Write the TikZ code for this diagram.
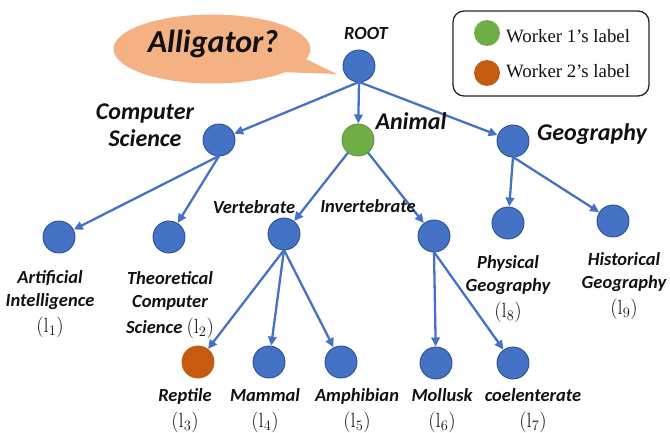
\documentclass[tikz,border=0pt]{standalone}
\usepackage{fontspec}
\newfontfamily\lblfont{Carlito}
\newfontfamily\legfont{Liberation Serif}
\usetikzlibrary{arrows.meta,shapes.callouts,shapes.geometric}
\definecolor{nodeblue}{HTML}{4472C4}
\definecolor{nodeborder}{HTML}{2F528F}
\definecolor{wgreen}{HTML}{70AD47}
\definecolor{worange}{HTML}{C55A11}
\definecolor{bubblefill}{HTML}{F4B183}
\definecolor{edgeblue}{HTML}{4472C4}
\definecolor{txt}{HTML}{111111}
\newcommand{\lidx}[1]{{\fontsize{20.5}{23}\selectfont$(\mathrm{l}_{#1})$}}
\tikzset{
  circ/.style={circle, fill=nodeblue, draw=nodeborder, line width=0.9pt, minimum size=32pt, inner sep=0pt, outer sep=0pt},
  arr/.style={draw=edgeblue, line width=2.3pt, -{Triangle[length=9pt,width=8.5pt]}, shorten >=0.5pt},
  lbl/.style={font=\lblfont\bfseries\itshape\fontsize{18.5}{23}\selectfont, align=center, inner sep=0pt, text=txt},
  biglbl/.style={font=\lblfont\bfseries\itshape\fontsize{24}{27}\selectfont, align=center, inner sep=0pt, text=txt},
  legtxt/.style={font=\legfont\fontsize{18.8}{22}\selectfont, inner sep=0pt, anchor=base west, text=txt},
}
\begin{document}
\begin{tikzpicture}[x=1pt,y=-1pt]
\useasboundingbox (0,0) rectangle (670,433);
% speech bubble
\coordinate (tip) at (337,74);
\node[ellipse callout, fill=bubblefill, draw=none, minimum width=197pt, minimum height=69pt, inner sep=0pt, outer sep=0pt, callout absolute pointer={(tip)}, callout pointer arc=25] (bubble) at (212,49) {};
\node[font=\lblfont\bfseries\itshape\fontsize{32}{36}\selectfont, anchor=base, inner sep=0pt, text=txt] (alli) at (213,53) {Alligator?};
% legend
\node[draw=black!85, line width=1.3pt, rounded corners=11pt, minimum width=196pt, minimum height=85pt, inner sep=0pt] (legend) at (551,53.5) {};
\node[circle, fill=wgreen, minimum size=26pt, inner sep=0pt] (g1) at (487,33) {};
\node[circle, fill=worange, minimum size=26pt, inner sep=0pt] (o1) at (487,73) {};
\node[legtxt] (w1) at (506,43) {Worker 1’s label};
\node[legtxt] (w2) at (506,78) {Worker 2’s label};
% tree nodes
\node[circ] (root) at (359,66) {};
\node[circ] (cs) at (219,140) {};
\node[circ, fill=wgreen, draw=wgreen!85!black] (animal) at (358,140) {};
\node[circ] (geo) at (513,141) {};
\node[circ] (ai) at (59,237) {};
\node[circ] (tcs) at (169,237) {};
\node[circ] (vert) at (284,234) {};
\node[circ] (invert) at (434,236) {};
\node[circ] (phys) at (508,223) {};
\node[circ] (hist) at (613,221) {};
\node[circ, fill=worange, draw=worange] (rep) at (198,362) {};
\node[circ] (mam) at (269,362) {};
\node[circ] (amph) at (341,362) {};
\node[circ] (moll) at (436,363) {};
\node[circ] (coel) at (513,363) {};
% edges
\draw[arr] (root.south) -- (cs);
\draw[arr] (root.south) -- (animal);
\draw[arr] (root.south) -- (geo);
\draw[arr] (cs.south) -- (ai);
\draw[arr] (cs.south) -- (tcs);
\draw[arr] (animal) -- (vert);
\draw[arr] (animal) -- (invert);
\draw[arr] (geo.south) -- (phys);
\draw[arr] (geo.south) -- (hist);
\draw[arr] (vert.south) -- (rep);
\draw[arr] (vert.south) -- (mam);
\draw[arr] (vert.south) -- (amph);
\draw[arr] (invert.south) -- (moll);
\draw[arr] (invert.south) -- (coel);
% labels
\node[lbl, anchor=base] (lroot) at (366,40) {ROOT};
\node[biglbl, anchor=north] (lcs) at (145,104) {Computer\\Science};
\node[biglbl, anchor=base] (lanimal) at (411,130) {Animal};
\node[biglbl, anchor=base] (lgeo) at (592,141) {Geography};
\node[lbl, anchor=base] (lvert) at (254,214) {Vertebrate};
\node[lbl, anchor=base] (linvert) at (368,213) {Invertebrate};
\node[lbl, anchor=north] (lai) at (50,270) {Artificial\\Intelligence\\[3pt]\lidx{1}};
\node[lbl, anchor=north] (ltcs) at (170,271) {Theoretical\\Computer\\[3pt]Science \lidx{2}};
\node[lbl, anchor=north] (lphys) at (508,255) {Physical\\Geography\\[3pt]\lidx{8}};
\node[lbl, anchor=north] (lhist) at (624,252) {Historical\\Geography\\[3pt]\lidx{9}};
\node[lbl, anchor=north] (lrep) at (185,388) {Reptile\\[3pt]\lidx{3}};
\node[lbl, anchor=north] (lmam) at (265,388) {Mammal\\[3pt]\lidx{4}};
\node[lbl, anchor=north] (lamph) at (357,388) {Amphibian\\[3pt]\lidx{5}};
\node[lbl, anchor=north] (lmoll) at (442,388) {Mollusk\\[3pt]\lidx{6}};
\node[lbl, anchor=north] (lcoel) at (533,388) {coelenterate\\[3pt]\lidx{7}};
\end{tikzpicture}
\end{document}
